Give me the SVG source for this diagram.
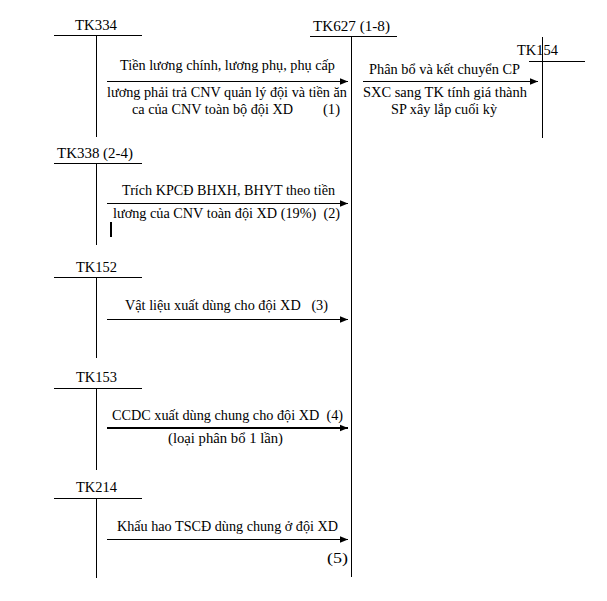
<svg xmlns="http://www.w3.org/2000/svg" width="607" height="601" viewBox="0 0 607 601">
<style>
.bg{fill:#fff}
.acc{font-family:"Liberation Serif","Times New Roman",serif;font-size:15.5px;fill:#000}
.lbl{font-family:"Liberation Serif","Times New Roman",serif;font-size:14px;fill:#000}
.ln{stroke:#000;stroke-width:1;fill:none}
.arr{stroke:#000;stroke-width:1;fill:none;marker-end:url(#ah)}
.arr2{stroke:#000;stroke-width:2;fill:none;marker-end:url(#ah2)}
</style>
<defs>
<marker id="ah" viewBox="0 0 8 8" refX="8" refY="4" markerWidth="8" markerHeight="8" markerUnits="userSpaceOnUse" orient="auto">
<path d="M0,0.8 L8,4 L0,7.2 Z" fill="#000"/>
</marker>
<marker id="ah2" viewBox="0 0 8 8" refX="8" refY="4" markerWidth="8" markerHeight="8" markerUnits="userSpaceOnUse" orient="auto">
<path d="M0,0.8 L8,4 L0,7.2 Z" fill="#000"/>
</marker>
</defs>
<rect class="bg" x="0" y="0" width="607" height="601"/>

<g id="tk334">
<text class="acc" x="75" y="30" textLength="42" lengthAdjust="spacingAndGlyphs">TK334</text>
<line class="ln" x1="54" y1="35.5" x2="142" y2="35.5"/>
<line class="ln" x1="96.5" y1="35.5" x2="96.5" y2="137"/>
</g>

<g id="tk627">
<text class="acc" x="313" y="31" textLength="77" lengthAdjust="spacingAndGlyphs">TK627 (1-8)</text>
<line class="ln" x1="310" y1="36.5" x2="397" y2="36.5"/>
<line class="ln" x1="351.5" y1="36.5" x2="351.5" y2="577"/>
</g>

<g id="tk154">
<text class="acc" x="517" y="55" textLength="41" lengthAdjust="spacingAndGlyphs">TK154</text>
<line class="ln" x1="529" y1="61.5" x2="585" y2="61.5"/>
<line class="ln" x1="542.5" y1="37" x2="542.5" y2="138"/>
</g>

<g id="tk338">
<text class="acc" x="57" y="158" textLength="76" lengthAdjust="spacingAndGlyphs">TK338 (2-4)</text>
<line class="ln" x1="54" y1="163.5" x2="142" y2="163.5"/>
<line class="ln" x1="96.5" y1="163.5" x2="96.5" y2="245"/>
<rect x="110" y="222" width="2" height="15" fill="#000"/>
</g>

<g id="tk152">
<text class="acc" x="76" y="272" textLength="41" lengthAdjust="spacingAndGlyphs">TK152</text>
<line class="ln" x1="54" y1="277.5" x2="142" y2="277.5"/>
<line class="ln" x1="96.5" y1="277.5" x2="96.5" y2="358"/>
</g>

<g id="tk153">
<text class="acc" x="76" y="382" textLength="41" lengthAdjust="spacingAndGlyphs">TK153</text>
<line class="ln" x1="54" y1="388.5" x2="142" y2="388.5"/>
<line class="ln" x1="96.5" y1="388.5" x2="96.5" y2="470"/>
</g>

<g id="tk214">
<text class="acc" x="76" y="492" textLength="41" lengthAdjust="spacingAndGlyphs">TK214</text>
<line class="ln" x1="54" y1="498.5" x2="142" y2="498.5"/>
<line class="ln" x1="96.5" y1="498.5" x2="96.5" y2="578"/>
</g>

<g id="connectors">
<line class="arr" x1="107" y1="81.5" x2="348" y2="81.5"/>
<line class="arr" x1="363" y1="81.5" x2="538" y2="81.5"/>
<line class="arr" x1="107" y1="203.5" x2="348" y2="203.5"/>
<line class="arr" x1="107" y1="319.5" x2="348" y2="319.5"/>
<line class="arr2" x1="107" y1="428" x2="348" y2="428"/>
<line class="arr" x1="107" y1="539.5" x2="348" y2="539.5"/>
</g>

<g id="labels">
<text class="lbl" x="120" y="70" textLength="215" lengthAdjust="spacingAndGlyphs">Tiền lương chính, lương phụ, phụ cấp</text>
<text class="lbl" x="107" y="97" textLength="240" lengthAdjust="spacingAndGlyphs">lương phải trả CNV quản lý đội và tiền ăn</text>
<text class="lbl" x="132" y="114" textLength="161" lengthAdjust="spacingAndGlyphs">ca của CNV toàn bộ đội XD</text>
<text class="lbl" x="323" y="114" textLength="17" lengthAdjust="spacingAndGlyphs">(1)</text>
<text class="lbl" x="369" y="74" textLength="151" lengthAdjust="spacingAndGlyphs">Phân bổ và kết chuyển CP</text>
<text class="lbl" x="363" y="97" textLength="164" lengthAdjust="spacingAndGlyphs">SXC sang TK tính giá thành</text>
<text class="lbl" x="391" y="114" textLength="106" lengthAdjust="spacingAndGlyphs">SP xây lắp cuối kỳ</text>
<text class="lbl" x="122" y="195" textLength="213" lengthAdjust="spacingAndGlyphs">Trích KPCĐ BHXH, BHYT theo tiền</text>
<text class="lbl" x="113" y="218" textLength="227" lengthAdjust="spacingAndGlyphs" xml:space="preserve">lương của CNV toàn đội XD (19%)  (2)</text>
<text class="lbl" x="125" y="310" textLength="203" lengthAdjust="spacingAndGlyphs" xml:space="preserve">Vật liệu xuất dùng cho đội XD   (3)</text>
<text class="lbl" x="112" y="420" textLength="231" lengthAdjust="spacingAndGlyphs" xml:space="preserve">CCDC xuất dùng chung cho đội XD  (4)</text>
<text class="lbl" x="168" y="443" textLength="115" lengthAdjust="spacingAndGlyphs">(loại phân bổ 1 lần)</text>
<text class="lbl" x="117" y="531" textLength="221" lengthAdjust="spacingAndGlyphs">Khấu hao TSCĐ dùng chung ở đội XD</text>
<text class="lbl" x="327" y="563" textLength="21" lengthAdjust="spacingAndGlyphs">(5)</text>
</g>
</svg>
